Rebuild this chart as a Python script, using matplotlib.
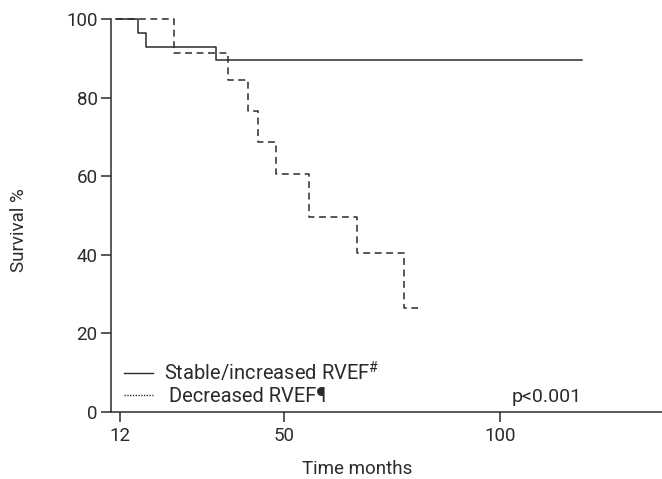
import matplotlib.pyplot as plt
from matplotlib.lines import Line2D

plt.rcParams['font.family'] = ['Roboto', 'DejaVu Sans']
plt.rcParams['mathtext.fontset'] = 'custom'
plt.rcParams['mathtext.rm'] = 'Roboto'

# Kaplan-Meier step points
stable_t = [11, 16.1, 17.9, 34.2, 119]
stable_s = [100, 96.4, 92.9, 89.6, 89.6]
decr_t = [11, 24.5, 37.1, 41.6, 43.9, 48.1, 55.7, 66.8, 77.7, 81]
decr_s = [100, 91.4, 84.5, 76.6, 68.8, 60.5, 49.7, 40.4, 26.5, 26.5]

xticks = [12, 50, 100]
yticks = [0, 20, 40, 60, 80, 100]

col = '#2b2b2b'
fs = 13.5

fig = plt.figure(figsize=(6.62, 4.79), dpi=100)
ax = fig.add_axes([0.1677, 0.1399, 0.8323, 0.8204])

ax.step(stable_t, stable_s, where='post', color=col, lw=1.1, clip_on=False)
ax.step(decr_t, decr_s, where='post', color=col, lw=1.1,
        linestyle=(0, (4.5, 3)), clip_on=False)

ax.set_xlim(9.9, 137.5)
ax.set_ylim(0, 100)
ax.set_xticks(xticks)
ax.set_yticks(yticks)

for s in ['top', 'right']:
    ax.spines[s].set_visible(False)
for s in ['left', 'bottom']:
    ax.spines[s].set_color(col)
    ax.spines[s].set_linewidth(1.1)

ax.tick_params(axis='both', direction='out', length=7.2, width=1.1,
               color=col, labelcolor=col, labelsize=fs)
ax.tick_params(axis='x', pad=3.5)
ax.tick_params(axis='y', pad=2.5)

ax.set_xlabel('Time months', fontsize=fs, color=col)
ax.xaxis.set_label_coords(0.447, -0.121)
ax.set_ylabel('Survival %', fontsize=fs, color=col)
ax.yaxis.set_label_coords(-0.150, 0.463)

handles = [Line2D([], [], color=col, lw=1.0),
           Line2D([], [], color=col, lw=1.0, linestyle=(0, (1, 1)))]
labels = ['Stable/increased RVEF$^{\\#}$', ' Decreased RVEF¶']
leg = ax.legend(handles, labels, loc='lower left', frameon=False,
                fontsize=14.5, handlelength=1.45, handletextpad=0.55,
                labelspacing=0.12, borderpad=0, borderaxespad=0,
                bbox_to_anchor=(0.0236, 0.016))
for t in leg.get_texts():
    t.set_color(col)

ax.text(102.7, 3.7, 'p<0.001', fontsize=14, color=col, va='center', ha='left')

fig.savefig('out.png', dpi=100)
